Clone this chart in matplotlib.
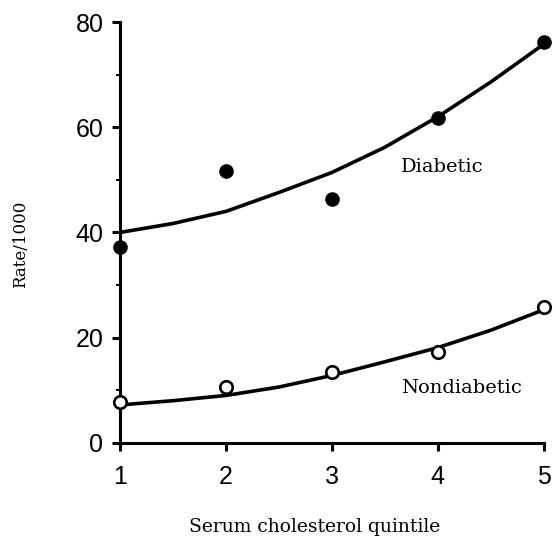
import matplotlib
matplotlib.use('Agg')
import matplotlib.pyplot as plt
from matplotlib.ticker import MultipleLocator

# observed rates per quintile
quintiles = [1, 2, 3, 4, 5]
diabetic = [37.3, 51.6, 46.3, 61.8, 76.2]
nondiabetic = [7.8, 10.7, 13.5, 17.3, 25.9]

# fitted curves, every half quintile
curve_x = [1, 1.5, 2, 2.5, 3, 3.5, 4, 4.5, 5]
diabetic_fit = [40.0, 41.7, 44.0, 47.6, 51.4, 56.2, 62.0, 68.6, 75.8]
nondiabetic_fit = [7.2, 8.0, 9.0, 10.6, 12.8, 15.4, 18.1, 21.4, 25.3]

y_ticks = [0, 20, 40, 60, 80]

fig = plt.figure(figsize=(5.56, 5.38), dpi=100)
ax = fig.add_axes([0.216, 0.177, 0.762, 0.782])

ax.plot(curve_x, diabetic_fit, color='black', lw=2.6, solid_capstyle='round',
        solid_joinstyle='round', zorder=2)
ax.plot(curve_x, nondiabetic_fit, color='black', lw=2.6, solid_capstyle='round',
        solid_joinstyle='round', zorder=2)
ax.plot(quintiles, diabetic, 'o', color='black', markersize=9.5, zorder=3, clip_on=False)
ax.plot(quintiles, nondiabetic, 'o', markerfacecolor='white', markeredgecolor='black',
        markeredgewidth=1.9, markersize=9, zorder=3, clip_on=False)

ax.text(4.04, 52.5, 'Diabetic', family='DejaVu Serif', fontsize=14, ha='center', va='center')
ax.text(4.22, 10.5, 'Nondiabetic', family='DejaVu Serif', fontsize=14, ha='center', va='center')

ax.set_xlim(1, 5)
ax.set_ylim(0, 80)
ax.set_xticks(quintiles)
ax.set_yticks(y_ticks)
ax.yaxis.set_minor_locator(MultipleLocator(10))

for s in ['top', 'right']:
    ax.spines[s].set_visible(False)
for s in ['left', 'bottom']:
    ax.spines[s].set_linewidth(2.2)

ax.tick_params(axis='both', which='major', direction='out', length=6, width=2.2,
               labelsize=18)
ax.tick_params(axis='x', pad=10)
ax.tick_params(axis='y', pad=6)
ax.tick_params(axis='y', which='minor', direction='out', length=3, width=1.5)
for lab in ax.get_xticklabels() + ax.get_yticklabels():
    lab.set_family('Liberation Sans')

fig.text(315 / 556, 1 - 527 / 538, 'Serum cholesterol quintile', family='DejaVu Serif',
         fontsize=13.5, ha='center', va='center')
fig.text(21 / 556, 1 - 244 / 538, 'Rate/1000', family='DejaVu Serif',
         fontsize=12, rotation=90, ha='center', va='center')

fig.savefig('out.png', dpi=100)
